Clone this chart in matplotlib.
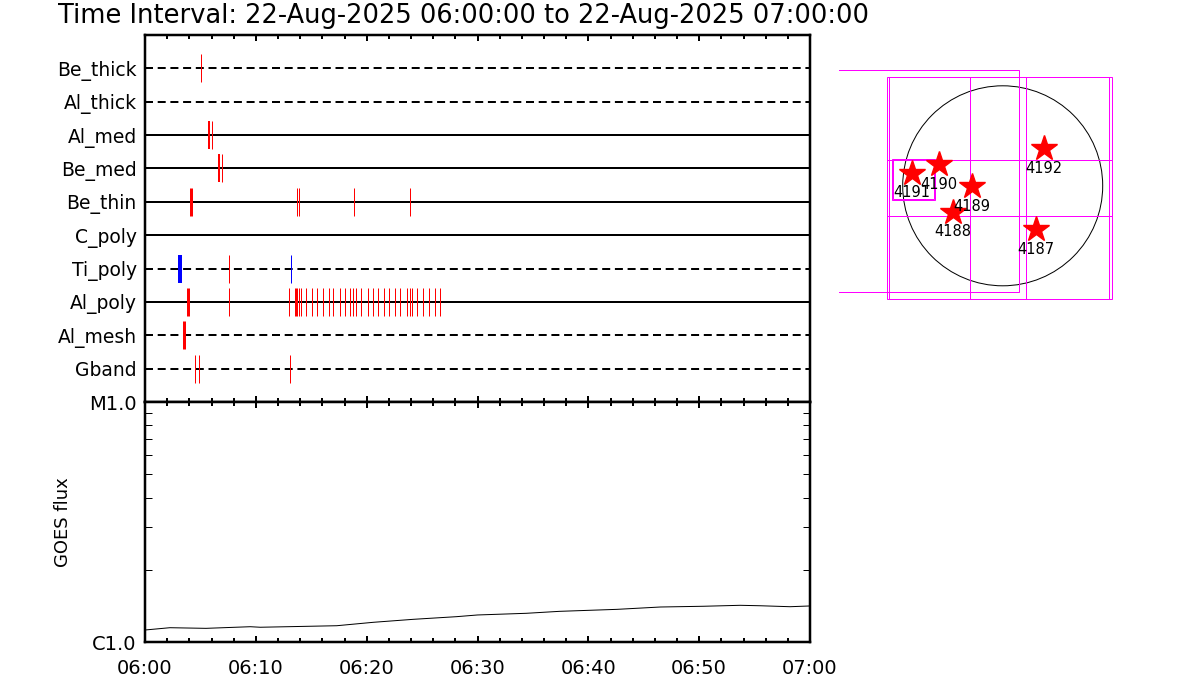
import numpy as np
import matplotlib
matplotlib.use('Agg')
import matplotlib.pyplot as plt
from matplotlib.ticker import MultipleLocator, FixedLocator, NullFormatter
from matplotlib.patches import Rectangle, Circle

# detector rows, top to bottom
detectors = ['Be_thick', 'Al_thick', 'Al_med', 'Be_med', 'Be_thin',
             'C_poly', 'Ti_poly', 'Al_poly', 'Al_mesh', 'Gband']
dashed = ['Be_thick', 'Al_thick', 'Ti_poly', 'Al_mesh', 'Gband']

# events: detector, minutes after 06:00, colour, width (px)
dense = [13.02, 13.53, 13.62, 13.74, 13.90, 14.05, 14.55, 15.04, 15.55, 16.09,
         16.58, 16.99, 17.57, 18.07, 18.52, 18.79, 19.07, 19.52, 20.12, 20.60,
         21.05, 21.59, 22.04, 22.56, 23.04, 23.61, 23.88, 24.12, 24.57, 25.11,
         25.62, 26.14, 26.59]
evt_det = (['Be_thick', 'Al_med', 'Al_med', 'Be_med', 'Be_med',
            'Be_thin', 'Be_thin', 'Be_thin', 'Be_thin', 'Be_thin',
            'Ti_poly', 'Ti_poly', 'Ti_poly',
            'Al_poly', 'Al_poly'] + ['Al_poly'] * len(dense) +
           ['Al_mesh', 'Gband', 'Gband', 'Gband'])
evt_min = ([5.08, 5.80, 6.03, 6.70, 6.95,
            4.15, 13.75, 13.93, 18.86, 23.90,
            3.20, 7.60, 13.20,
            3.85, 7.60] + dense +
           [3.55, 4.50, 4.85, 13.10])
evt_col = (['red'] * 10 + ['blue', 'red', 'blue'] + ['red'] * 2 +
           ['red'] * len(dense) + ['red'] * 4)
evt_px = ([1, 2, 1, 2, 1,
           3, 1, 1, 1, 1,
           4, 1, 1,
           3, 1] + [1] * len(dense) +
          [3, 1, 1, 1])

# GOES flux (units of 1e-6 W/m^2)
goes_min = [0.0, 2.25, 5.5, 9.5, 10.4, 17.3, 20.6, 24.2, 28.1, 30.0, 34.4,
            37.4, 42.6, 46.5, 50.4, 53.7, 55.5, 58.2, 60.0]
goes_flux = [1.122, 1.147, 1.140, 1.158, 1.152, 1.169, 1.208, 1.243, 1.275,
             1.296, 1.317, 1.342, 1.368, 1.399, 1.409, 1.422, 1.416, 1.403, 1.413]

time_ticks = [0, 10, 20, 30, 40, 50, 60]
time_labels = ['06:00', '06:10', '06:20', '06:30', '06:40', '06:50', '07:00']

# active regions on the disc (arcsec)
ar_num = ['4191', '4190', '4189', '4188', '4192', '4187']
ar_x = [-864, -608, -294, -475, 390, 319]
ar_y = [124, 207, -2, -246, 356, -410]
r_sun = 950
# FOV boxes: x0, x1, y0, y1 (arcsec)
fov_x0 = [-1095, -1080, -1095, -308, -1700, -1054, -1045]
fov_x1 = [1012, 1035, 1035, 224, 158, -640, -650]
fov_y0 = [-1078, -1078, -287, -1078, -1012, -135, -128]
fov_y1 = [1031, 1031, 245, 1031, 1097, 257, 252]

W, H = 1200, 700
fig = plt.figure(figsize=(12, 7), dpi=100)
px = 0.72  # points per pixel

fig.text(58 / W, 1 - 16 / H,
         'Time Interval: 22-Aug-2025 06:00:00 to 22-Aug-2025 07:00:00',
         fontsize=18.5, ha='left', va='center')

# top panel: detector timeline
ax1 = fig.add_axes([145 / W, (H - 402) / H, 665 / W, 367 / H])
nrow = len(detectors)
rows = {d: nrow - i for i, d in enumerate(detectors)}
for d in detectors:
    ls = (0, (4, 2.35)) if d in dashed else '-'
    ax1.plot([0, 60], [rows[d], rows[d]], color='black', lw=2 * px, ls=ls)
for d, m, c, w in zip(evt_det, evt_min, evt_col, evt_px):
    ax1.vlines(m, rows[d] - 0.42, rows[d] + 0.42, colors=c, lw=w * px)
ax1.set_xlim(0, 60)
ax1.set_ylim(0, nrow + 1)
ax1.set_yticks([rows[d] for d in detectors])
ax1.set_yticklabels(detectors, fontsize=13.5)
ax1.xaxis.set_major_locator(FixedLocator(time_ticks))
ax1.xaxis.set_minor_locator(MultipleLocator(2))
ax1.xaxis.set_major_formatter(NullFormatter())
ax1.tick_params(axis='x', which='both', direction='in', top=True, bottom=True,
                width=2 * px)
ax1.tick_params(axis='x', which='major', length=6 * px)
ax1.tick_params(axis='x', which='minor', length=4 * px)
ax1.tick_params(axis='y', direction='in', length=5 * px, width=2 * px, pad=6)

# bottom panel: GOES flux
ax2 = fig.add_axes([145 / W, (H - 642) / H, 665 / W, 240 / H])
ax2.plot(goes_min, np.array(goes_flux) * 1e-6, color='black', lw=1 * px)
ax2.set_yscale('log')
ax2.set_xlim(0, 60)
ax2.set_ylim(1e-6, 1e-5)
ax2.yaxis.set_major_locator(FixedLocator([1e-6, 1e-5]))
ax2.set_yticklabels(['C1.0', 'M1.0'], fontsize=14)
ax2.yaxis.set_minor_locator(FixedLocator([k * 1e-6 for k in range(2, 10)]))
ax2.yaxis.set_minor_formatter(NullFormatter())
ax2.tick_params(axis='y', which='both', direction='in', left=True, right=True)
ax2.tick_params(axis='y', which='major', length=0, pad=6)
ax2.tick_params(axis='y', which='minor', length=7 * px, width=1 * px)
ax2.set_ylabel('GOES flux', fontsize=13, labelpad=12)
ax2.xaxis.set_major_locator(FixedLocator(time_ticks))
ax2.xaxis.set_minor_locator(MultipleLocator(2))
ax2.set_xticklabels(time_labels, fontsize=14)
ax2.tick_params(axis='x', which='both', direction='in', top=True, bottom=True,
                width=2 * px, pad=12)
ax2.tick_params(axis='x', which='major', length=6 * px)
ax2.tick_params(axis='x', which='minor', length=4 * px)

for ax in (ax1, ax2):
    for s in ax.spines.values():
        s.set_linewidth(2.5 * px)

# right: solar disc map
scale = 9.5  # arcsec per pixel
cx, cy = 1002.7, 185.8
axm = fig.add_axes([839 / W, (H - 310) / H, 301 / W, 250 / H])
axm.set_xlim((839 - cx) * scale, (1140 - cx) * scale)
axm.set_ylim((cy - 310) * scale, (cy - 60) * scale)
axm.axis('off')
axm.add_patch(Circle((0, 0), r_sun, fill=False, ec='black', lw=1 * px))
for x0, x1, y0, y1 in zip(fov_x0, fov_x1, fov_y0, fov_y1):
    axm.add_patch(Rectangle((x0, y0), x1 - x0, y1 - y0, fill=False,
                            ec='#ff00ff', lw=1 * px))
axm.plot(ar_x, ar_y, ls='none', marker='*', color='red', ms=19, mec='red')
for n, x, y in zip(ar_num, ar_x, ar_y):
    axm.annotate(n, (x, y), xytext=(0, -14.5), textcoords='offset points',
                 ha='center', va='center', fontsize=10.5)

fig.savefig('out.png', dpi=100)
